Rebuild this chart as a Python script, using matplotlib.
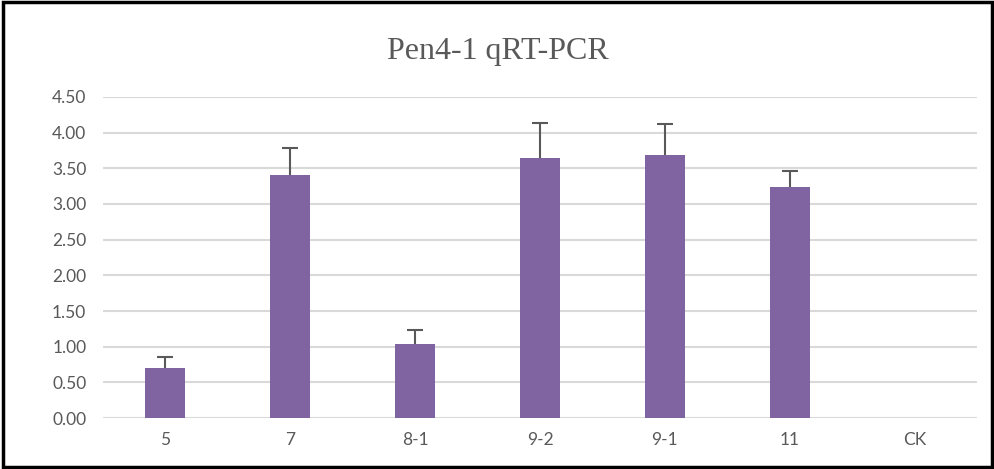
import matplotlib
matplotlib.use("Agg")
import matplotlib.pyplot as plt
from matplotlib.patches import Rectangle

# Data
categories = ["5", "7", "8-1", "9-2", "9-1", "11", "CK"]
values = [0.70, 3.41, 1.04, 3.65, 3.69, 3.24, 0.0]
errors = [0.15, 0.37, 0.19, 0.49, 0.43, 0.22, 0.0]
yticks = [0.0, 0.5, 1.0, 1.5, 2.0, 2.5, 3.0, 3.5, 4.0, 4.5]

fig = plt.figure(figsize=(9.95, 4.69), dpi=100)
ax = fig.add_axes([0.1035, 0.1087, 0.8785, 0.6845])

x = list(range(len(categories)))
ax.bar(x, values, width=0.32, color="#8064A2", zorder=3)

# upper-only error bars (line + cap at the top)
ex = [xi for xi, e in zip(x, errors) if e > 0]
ev = [v for v, e in zip(values, errors) if e > 0]
ee = [e for e in errors if e > 0]
ax.vlines(ex, ev, [v + e for v, e in zip(ev, ee)], color="#595959",
          linewidth=1.5, zorder=4)
ax.plot(ex, [v + e for v, e in zip(ev, ee)], linestyle="none", marker="_",
        markersize=11, markeredgewidth=1.5, color="#595959", zorder=4)

ax.set_xlim(-0.5, len(categories) - 0.5)
ax.set_ylim(0, 4.5)
ax.set_yticks(yticks)
ax.set_yticklabels([f"{t:.2f}" for t in yticks])
ax.set_xticks(x)
ax.set_xticklabels(categories)
ax.grid(axis="y", color="#D9D9D9", linewidth=1.5, zorder=0)
for s in ax.spines.values():
    s.set_visible(False)
ax.tick_params(length=0, labelsize=12.5, labelcolor="#595959", pad=10)
for lab in ax.get_xticklabels() + ax.get_yticklabels():
    lab.set_family("Lato")
ax.tick_params(axis="y", pad=12)

fig.text(0.5, 0.89, "Pen4-1 qRT-PCR", ha="center", va="center",
         fontsize=23, color="#595959", family="Liberation Serif")

fig.patches.append(Rectangle((0.003, 0.004), 0.994, 0.992, transform=fig.transFigure,
                             fill=False, edgecolor="black", linewidth=2.5))

fig.savefig("out.png", dpi=100)
